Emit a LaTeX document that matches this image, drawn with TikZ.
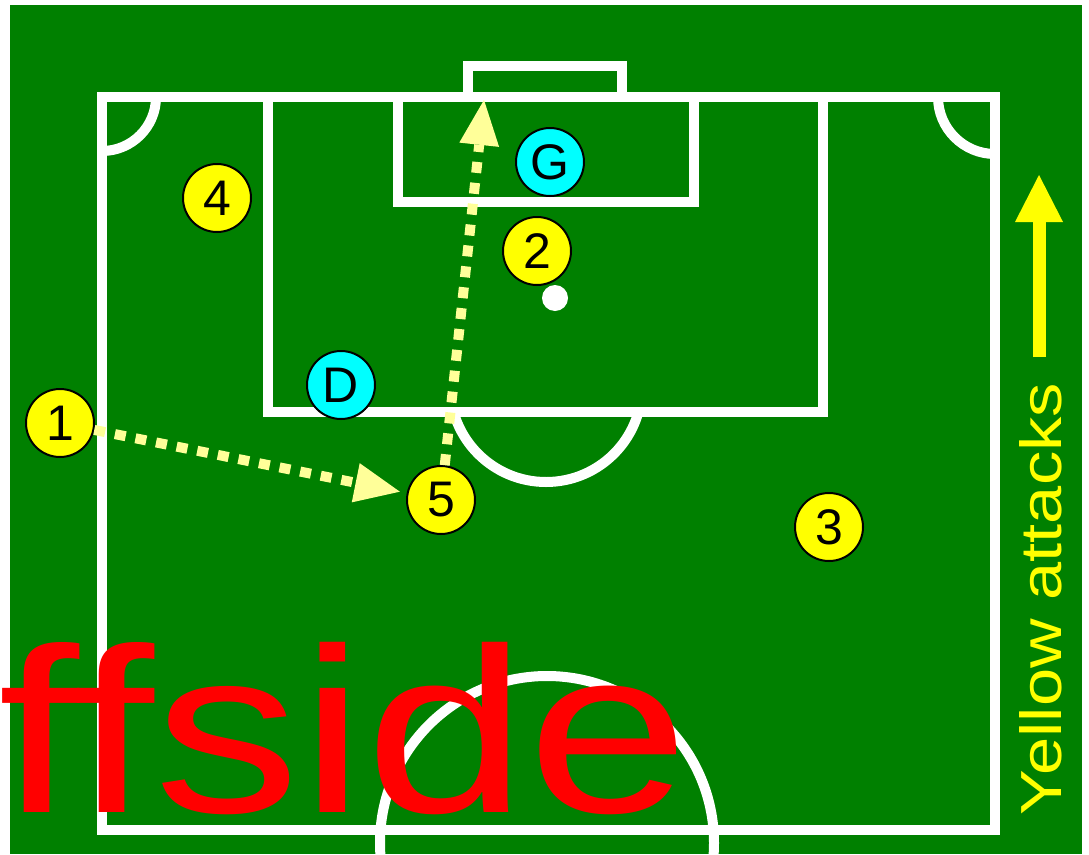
\documentclass[tikz,border=0pt]{standalone}
\usepackage{fontspec}
\setmainfont{Liberation Sans}
\usetikzlibrary{arrows.meta}
\definecolor{pitch}{RGB}{0,128,0}
\definecolor{pale}{RGB}{255,255,153}
\definecolor{pyellow}{RGB}{255,255,0}
\definecolor{pcyan}{RGB}{0,255,255}
\definecolor{pred}{RGB}{255,0,0}
\begin{document}
\begin{tikzpicture}[x=1pt,y=-1pt,
  fieldline/.style={white,line width=10pt},
  player/.style={circle,draw=black,line width=2pt,minimum size=68pt,inner sep=0pt,font=\fontsize{50}{50}\selectfont},
  yelplayer/.style={player,fill=pyellow},
  cyaplayer/.style={player,fill=pcyan},
  pass/.style={pale,line width=10pt,dash pattern=on 11pt off 10pt,-{Triangle[length=45pt,width=40pt,line width=0pt]}},
  attackarrow/.style={pyellow,line width=13pt,-{Triangle[length=47pt,width=48pt,line width=0pt]}}]
\useasboundingbox (0,0) rectangle (1089,854);
\fill[pitch] (10,5) rectangle (1082,854);
% field lines
\draw[fieldline] (102,97) rectangle (995,830);
\draw[fieldline] (268,97) rectangle (823,412);
\draw[fieldline] (398,97) rectangle (694,202);
\draw[fieldline] (468,97) rectangle (622,66);
\begin{scope}
  \clip (102,97) rectangle (200,200);
  \draw[fieldline] (102,97) circle[radius=54];
\end{scope}
\begin{scope}
  \clip (995,97) rectangle (890,200);
  \draw[fieldline] (995,97) circle[radius=57];
\end{scope}
\begin{scope}
  \clip (400,412) rectangle (700,520);
  \draw[fieldline] (546,386) circle[radius=96];
\end{scope}
\begin{scope}
  \clip (10,5) rectangle (1082,854);
  \draw[fieldline] (547,843) circle[radius=167];
\end{scope}
\fill[white] (555,298) circle[radius=13];
% players
\node[yelplayer] (p4) at (217,198) {4};
\node[cyaplayer] (g) at (550,162) {G};
\node[yelplayer] (p2) at (537,251) {2};
\node[cyaplayer] (d) at (341,385) {D};
\node[yelplayer] (p1) at (60,423) {1};
\node[yelplayer] (p5) at (441,500) {5};
\node[yelplayer] (p3) at (829,527) {3};
% passes
\coordinate (tgt) at (484,100);
\draw[pass,shorten >=7pt] (p1) -- (p5);
\draw[pass] (p5) -- (tgt);
% attack direction
\coordinate (atkbottom) at (1039,357);
\coordinate (atktop) at (1039,175);
\draw[attackarrow] (atkbottom) -- (atktop);
\node[rotate=90,inner sep=0pt,text=pyellow] (atk) at (1041,599) {\resizebox{432pt}{42pt}{Yellow attacks}};
% big label
\node[anchor=south west,inner sep=0pt,text=pred] (offside) at (-2,815) {\resizebox{690pt}{170pt}{ffside}};
\end{tikzpicture}
\end{document}
